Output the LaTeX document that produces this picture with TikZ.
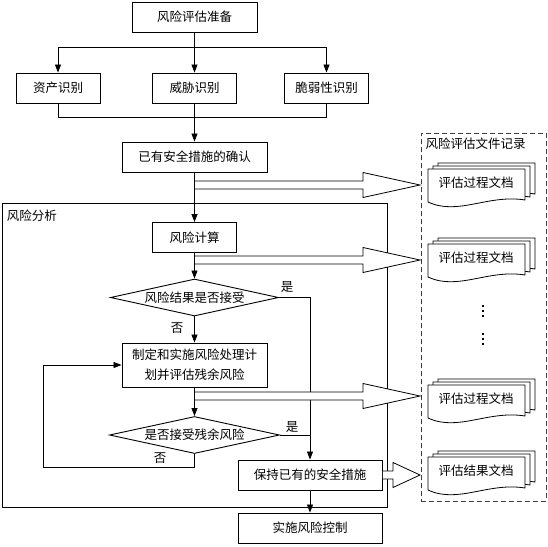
\documentclass[tikz,border=0pt]{standalone}
\usepackage{fontspec}
\setmainfont{Noto Sans CJK SC}
\usetikzlibrary{arrows.meta, positioning, calc, shapes.geometric, backgrounds}

% stacked document pages behind a text node
\newcommand{\docstack}[1]{%
  \foreach \o in {10,5,0}{%
    \draw[page] ($(#1)+(-48+\o,-14-0.6*\o)$) -- ($(#1)+(49+\o,-14-0.6*\o)$)
      -- ($(#1)+(49+\o,17-0.6*\o)$)
      .. controls ($(#1)+(12+\o,11-0.6*\o)$) and ($(#1)+(-18+\o,33-0.6*\o)$) .. ($(#1)+(-48+\o,19-0.6*\o)$)
      -- cycle;
  }}
% hollow wide arrow: start, tip, head length
\newcommand{\widearrow}[3]{%
  \draw[wide] ($(#1)+(0,-4)$) -- ($(#2)+(-#3,-4)$) -- ($(#2)+(-#3,-12.5)$) -- (#2)
    -- ($(#2)+(-#3,12.5)$) -- ($(#2)+(-#3,4)$) -- ($(#1)+(0,4)$);}

\begin{document}
\begin{tikzpicture}[
    x=1pt, y=-1pt,
    font=\fontsize{12.5}{15}\selectfont,
    >={Triangle[length=8pt,width=6pt]},
    block/.style={draw, line width=0.9pt, minimum width=#1, minimum height=30pt,
        inner sep=2pt, align=center},
    block/.default=84pt,
    decision/.style={diamond, draw, line width=0.9pt, aspect=4.6, inner sep=0pt,
        minimum width=#1, minimum height=37pt},
    arr/.style={->, line width=0.8pt},
    line/.style={line width=0.8pt},
    lbl/.style={inner sep=0pt},
    page/.style={draw, fill=white, line width=0.8pt},
    doc/.style={inner sep=0pt},
    wide/.style={draw, fill=white, line width=0.8pt},
]
\useasboundingbox (0,0) rectangle (548,546);
\node[block=125pt]  (prep)    at (194.5,17)  {风险评估准备};
\node[block]        (asset)   at (58,88)     {资产识别};
\node[block]        (threat)  at (194.5,88)  {威胁识别};
\node[block]        (vuln)    at (326.5,88)  {脆弱性识别};
\node[block=145pt]  (confirm) at (194.5,157) {已有安全措施的确认};
\node[draw, line width=0.9pt, minimum width=385pt, minimum height=304pt] (area) at (194.5,355) {};
\node[lbl, anchor=north west] (areatitle) at ($(area.north west)+(5,7)$) {风险分析};
\node[block]        (calc)    at (194.5,237.5) {风险计算};
\node[decision=168pt] (dec1)  at (194.5,297.5) {风险结果是否接受};
\node[block=145pt, minimum height=44pt, font=\fontsize{12.5}{20}\selectfont] (plan) at (194.5,365)
    {制定和实施风险处理计\\划并评估残余风险};
\node[decision=170pt] (dec2)  at (194.5,435) {是否接受残余风险};
\node[block=144pt]  (keep)    at (310,475)   {保持已有的安全措施};
\node[block=144pt]  (impl)    at (310,528)   {实施风险控制};
%% Records
\node[draw, black!75, dash pattern=on 5pt off 3pt, line width=1pt,
    minimum width=125pt, minimum height=368pt] (records) at (483.5,317) {};
\node[lbl, anchor=north west] (rectitle) at ($(records.north west)+(5,5)$) {风险评估文件记录};
\node[doc] (doc1) at (476,183) {评估过程文档};
\node[doc] (doc2) at (476,258) {评估过程文档};
\node[doc] (doc3) at (476,399) {评估过程文档};
\node[doc] (doc4) at (476,471) {评估结果文档};
\begin{scope}[on background layer]
\docstack{doc1}
\docstack{doc2}
\docstack{doc3}
\docstack{doc4}
\end{scope}
\foreach \y in {305,310,315,333,338,343} \fill (482,\y) rectangle ++(2,2);
%% Arrows
\coordinate (split) at (194.5,47);
\coordinate (merge) at (194.5,117);
\coordinate (back)  at (43,467);
\draw[line] (prep) -- (split);
\draw[arr] (split) -| (asset);
\draw[arr] (split) -- (threat);
\draw[arr] (split) -| (vuln);
\draw[line] (asset) |- (merge);
\draw[line] (vuln) |- (merge);
\draw[line] (threat) -- (merge);
\draw[arr] (merge) -- (confirm);
\draw[arr] (confirm) -- (calc);
\draw[arr] (calc) -- (dec1);
\draw[arr] (dec1) -- (plan);
\draw[arr] (dec1.east) -| (keep);
\draw[arr] (plan) -- (dec2);
\draw[line] (dec2.east) -- (dec2.east -| keep);
\draw[arr] (dec2.south) |- (back) |- (plan.west);
\draw[arr] (keep) -- (impl);
\node[lbl] (yes1) at (287,287) {是};
\node[lbl] (no1)  at (177,328) {否};
\node[lbl] (yes2) at (292,427) {是};
\node[lbl] (no2)  at (160,458) {否};
%% Wide arrows
\coordinate (s1) at (195,185);   \coordinate (t1) at (420,185);
\coordinate (s2) at (195,260);   \coordinate (t2) at (420,260);
\coordinate (s3) at (195,396);   \coordinate (t3) at (420,396);
\coordinate (s4) at ($(keep.east)+(0.5,0)$); \coordinate (t4) at (420,475);
\widearrow{s1}{t1}{57}
\widearrow{s2}{t2}{57}
\widearrow{s3}{t3}{57}
\widearrow{s4}{t4}{27}
\end{tikzpicture}
\end{document}
